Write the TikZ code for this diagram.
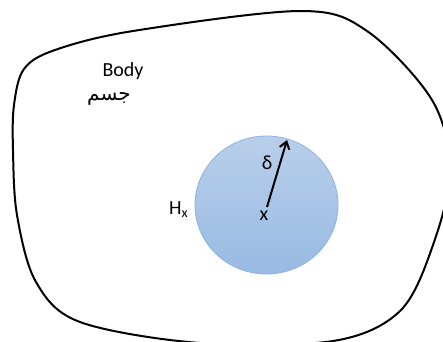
\documentclass[tikz,border=0pt]{standalone}
\usepackage{fontspec}
\setmainfont{Carlito}
\newfontfamily\arabicfont[Script=Arabic]{DejaVu Sans}
\TeXXeTstate=1
\usetikzlibrary{arrows.meta}
\definecolor{hxtop}{HTML}{B8CFEA}
\definecolor{hxbot}{HTML}{99BAE3}
\definecolor{hxedge}{HTML}{8DB2DF}
\tikzset{
  outline/.style={draw=black, line width=2pt},
  lbl/.style={inner sep=0pt, font=\fontsize{20}{22}\selectfont},
  radiusarrow/.style={draw=black, line width=2pt, -{Straight Barb[length=7pt,width=10pt,line width=2pt]}}
}
\begin{document}
\begin{tikzpicture}[x=1pt,y=-1pt]
\useasboundingbox (0,0) rectangle (443,341);
\begin{scope}
\clip (0,0) rectangle (443,341);
\draw[outline] plot[smooth cycle, tension=0.55] coordinates {
 (13,150) (17,215) (36,282) (80,322) (200,343) (333,341) (400,311)
 (433,245) (450,170) (432,100) (367,31) (300,11) (133,31) (55,50) (24,69) (14,105)};
\end{scope}
\path[shade, top color=hxtop, bottom color=hxbot, draw=hxedge, line width=0.8pt]
  (266.5,205) ellipse [x radius=71.5, y radius=69];
\coordinate (x0) at (267,207);
\coordinate (tip) at (287,140);
\draw[radiusarrow] (x0) -- (tip);
\node[lbl] (xlab) at (264,216) {x};
\node[lbl] (delta) at (267,163) {δ};
\node[lbl, anchor=west] (hx) at (169,210) {H\textsubscript{x}};
\node[lbl] (body) at (123,71) {Body};
\node[inner sep=0pt, font=\fontsize{20}{22}\selectfont] (ar) at (109,99) {\arabicfont\beginR جسم\endR};
\end{tikzpicture}
\end{document}
